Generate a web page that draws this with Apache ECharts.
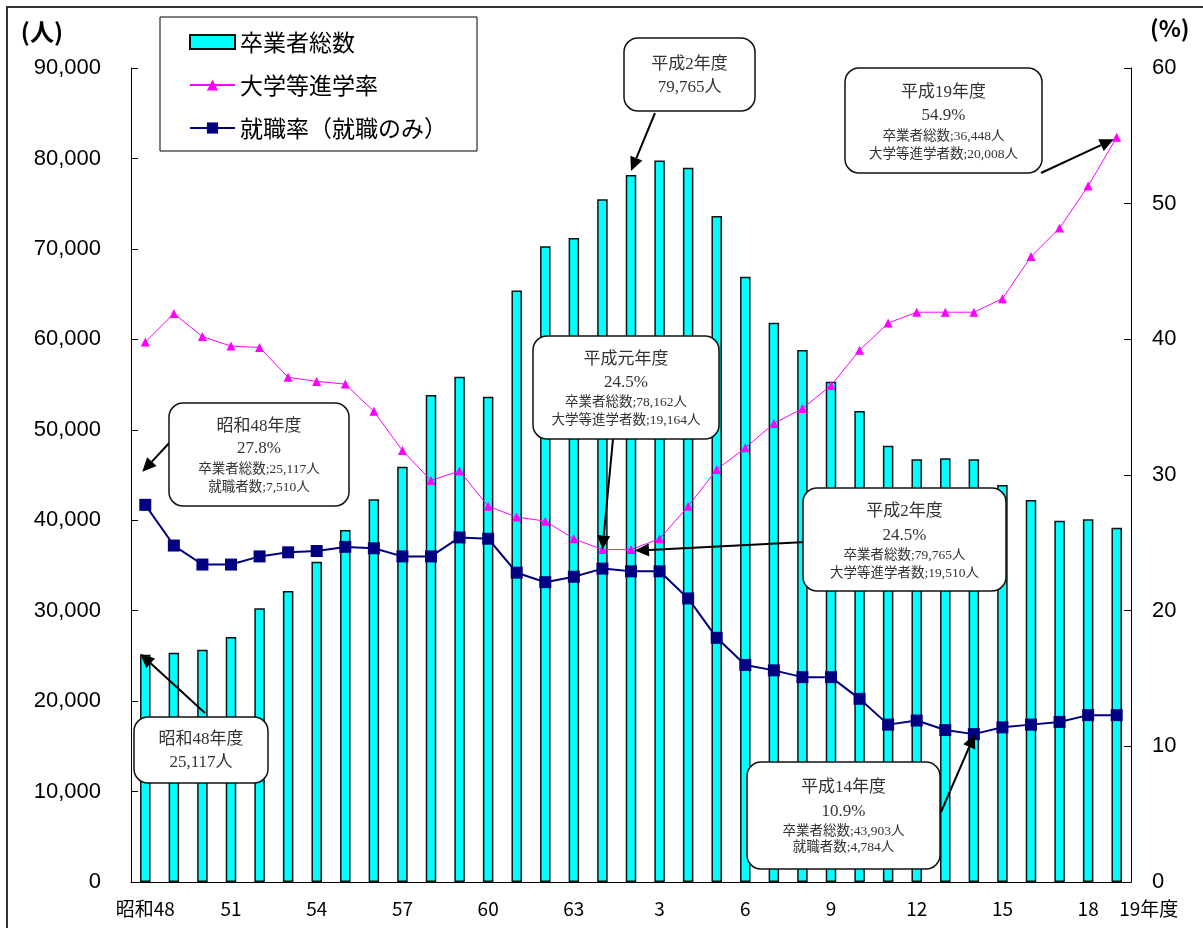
<!DOCTYPE html>
<html><head><meta charset="utf-8">
<script src="https://cdn.jsdelivr.net/npm/echarts@6/dist/echarts.min.js"></script>
<style>html,body{margin:0;padding:0;background:#fff}#c{width:1203px;height:928px}</style>
</head><body><div id="c"></div>
<script>
// ---- data ----
const categories = ['昭和48','49','50','51','52','53','54','55','56','57','58','59','60','61','62','63',
  '平成元','2','3','4','5','6','7','8','9','10','11','12','13','14','15','16','17','18','19'];
const tickLabels = ['昭和48','','','51','','','54','','','57','','','60','','','63',
  '','','3','','','6','','','9','','','12','','','15','','','18','19年度'];
const graduates = [25117,25350,25690,27100,30260,32180,35420,38920,42310,45920,53850,55870,53660,65400,70300,71200,
  75490,78162,79765,78980,73640,66930,61840,58820,55320,52080,48240,46740,46850,46740,43903,42240,39950,40100,39180];
const collegeRate = [39.8,41.9,40.2,39.5,39.4,37.2,36.9,36.7,34.7,31.8,29.6,30.3,27.7,26.9,26.6,25.3,
  24.5,24.5,25.3,27.7,30.4,32.0,33.8,34.9,36.6,39.2,41.2,42.0,42.0,42.0,43.0,46.1,48.2,51.3,54.9];
const jobRate = [27.8,24.8,23.4,23.4,24.0,24.3,24.4,24.7,24.6,24.0,24.0,25.4,25.3,22.8,22.1,22.5,
  23.1,22.9,22.9,20.9,18.0,16.0,15.6,15.1,15.1,13.5,11.6,11.9,11.2,10.9,11.4,11.6,11.8,12.3,12.3];
const seriesNames = ['卒業者総数','大学等進学率','就職率（就職のみ）'];
const leftTicks = {min:0, max:90000, interval:10000};
const rightTicks = {min:0, max:60, interval:10};

// callout texts (data) and their targets (series index, data index)
const calloutTexts = [
  ['平成2年度','79,765人'],
  ['平成19年度','54.9%','卒業者総数;36,448人','大学等進学者数;20,008人'],
  ['平成元年度','24.5%','卒業者総数;78,162人','大学等進学者数;19,164人'],
  ['昭和48年度','27.8%','卒業者総数;25,117人','就職者数;7,510人'],
  ['平成2年度','24.5%','卒業者総数;79,765人','大学等進学者数;19,510人'],
  ['昭和48年度','25,117人'],
  ['平成14年度','10.9%','卒業者総数;43,903人','就職者数;4,784人']
];
const calloutTargets = [[0,17],[1,34],[1,16],[2,0],[1,17],[0,0],[2,29]];

// ---- layout (pixels) ----
const calloutLayout = [
  {box:[624,38,131,73], lines:[65,88], tail:[655,113], off:[0,-4]},
  {box:[845,68,197,105], lines:[93,116,136,154], tail:[1041,173], off:[-3,2]},
  {box:[533,336,186,103], lines:[360,383,402,420], tail:[613,439], off:[0,0]},
  {box:[169,403,180,103], lines:[427,449,469,487], tail:[172,440], off:[-3,-33]},
  {box:[803,488,203,103], lines:[512,536,555,573], tail:[806,542], off:[4,1]},
  {box:[134,717,134,66], lines:[740,763], tail:[205,713], off:[-5,-1]},
  {box:[747,762,193,107], lines:[788,812,831,847], tail:[941,812], off:[1,0]}
];

const SANS = "'Liberation Sans','Noto Sans CJK JP',sans-serif";
const JP = "'Noto Sans CJK JP',sans-serif";
const SERIF = "'Liberation Serif','Noto Sans CJK JP',serif";

const chart = echarts.init(document.getElementById('c'), null, {renderer:'canvas'});
const yAxisBase = {
  type:'value', splitLine:{show:false},
  axisLine:{show:true, lineStyle:{color:'#000', width:1}},
  axisTick:{show:true, inside:true, length:7, lineStyle:{color:'#000'}},
};
chart.setOption({
  animation:false,
  backgroundColor:'#fff',
  grid:{left:131, right:72, top:68, bottom:46, containLabel:false},
  legend:{
    orient:'vertical', left:160, top:17, padding:[10,30,8,29], itemGap:13,
    itemWidth:45, itemHeight:14, borderColor:'#000', borderWidth:1, backgroundColor:'#fff',
    textStyle:{fontSize:23, fontFamily:JP, color:'#000', lineHeight:30},
    data:[{name:seriesNames[0], icon:'rect'},{name:seriesNames[1]},{name:seriesNames[2]}]
  },
  xAxis:{
    type:'category', data:categories, boundaryGap:true,
    axisLine:{show:true, lineStyle:{color:'#000', width:1}},
    axisTick:{show:false},
    axisLabel:{interval:0, margin:17, fontSize:19, fontFamily:JP, color:'#000',
      formatter:(v,i)=> i===categories.length-1 ? '{last|'+tickLabels[i]+'}' : tickLabels[i],
      rich:{last:{fontSize:19, fontFamily:JP, color:'#000', padding:[0,0,0,64]}}}
  },
  yAxis:[
    Object.assign({}, yAxisBase, leftTicks, {
      name:'(人)', nameLocation:'end', nameGap:36,
      nameTextStyle:{fontSize:24, fontFamily:JP, color:'#000', fontWeight:'bold', align:'right', verticalAlign:'middle', padding:[0,68,0,0]},
      axisLabel:{fontSize:22, fontFamily:SANS, color:'#000', margin:30, formatter:v=>v.toLocaleString('en-US')}
    }),
    Object.assign({}, yAxisBase, rightTicks, {
      name:'(%)', nameLocation:'end', nameGap:40,
      nameTextStyle:{fontSize:23, fontFamily:JP, color:'#000', fontWeight:'bold', align:'left', verticalAlign:'middle', padding:[0,0,0,19]},
      axisLabel:{fontSize:22, fontFamily:SANS, color:'#000', margin:21}
    })
  ],
  series:[
    {name:seriesNames[0], type:'bar', data:graduates, yAxisIndex:0, barWidth:10.5, z:2,
      itemStyle:{color:'#00FFFF', borderColor:'#111', borderWidth:1.5}},
    {name:seriesNames[1], type:'line', data:collegeRate, yAxisIndex:1, z:3,
      symbol:'triangle', symbolSize:9, lineStyle:{color:'#FF00FF', width:1},
      itemStyle:{color:'#FF00FF'}},
    {name:seriesNames[2], type:'line', data:jobRate, yAxisIndex:1, z:4,
      symbol:'rect', symbolSize:12, lineStyle:{color:'#000080', width:2},
      itemStyle:{color:'#000080'}}
  ]
});

// ---- callouts built from data positions ----
const seriesData = [graduates, collegeRate, jobRate];
const seriesAxis = [0,1,1];
const graphics = [{type:'rect', shape:{x:7,y:7,width:1215,height:935}, style:{fill:null, stroke:'#333', lineWidth:2}, z:0, silent:true}];
calloutTexts.forEach((lines, k) => {
  const L = calloutLayout[k];
  const [s, idx] = calloutTargets[k];
  const p = chart.convertToPixel({xAxisIndex:0, yAxisIndex:seriesAxis[s]}, [idx, seriesData[s][idx]]);
  const tip = [p[0]+L.off[0], p[1]+L.off[1]];
  const tail = L.tail;
  const dx = tip[0]-tail[0], dy = tip[1]-tail[1];
  const len = Math.hypot(dx,dy), ux = dx/len, uy = dy/len;
  const hl = 14, hw = 6.5;
  const base = [tip[0]-ux*hl, tip[1]-uy*hl];
  graphics.push({type:'line', z:100, shape:{x1:tail[0],y1:tail[1],x2:base[0],y2:base[1]}, style:{stroke:'#000', lineWidth:2}});
  graphics.push({type:'polygon', z:100, shape:{points:[tip,[base[0]-uy*hw, base[1]+ux*hw],[base[0]+uy*hw, base[1]-ux*hw]]}, style:{fill:'#000'}});
  const [bx,by,bw,bh] = L.box;
  graphics.push({type:'rect', z:101, shape:{x:bx,y:by,width:bw,height:bh,r:14}, style:{fill:'#fff', stroke:'#111', lineWidth:1.5}});
  lines.forEach((t, j) => {
    const big = j < 2;
    graphics.push({type:'text', z:102, x:bx+bw/2, y:L.lines[j], style:{text:t, fill:'#333',
      font:(big?'17px ':'13.5px ')+SERIF, textAlign:'center', textVerticalAlign:'middle'}});
  });
});
chart.setOption({graphic:graphics});
</script></body></html>
